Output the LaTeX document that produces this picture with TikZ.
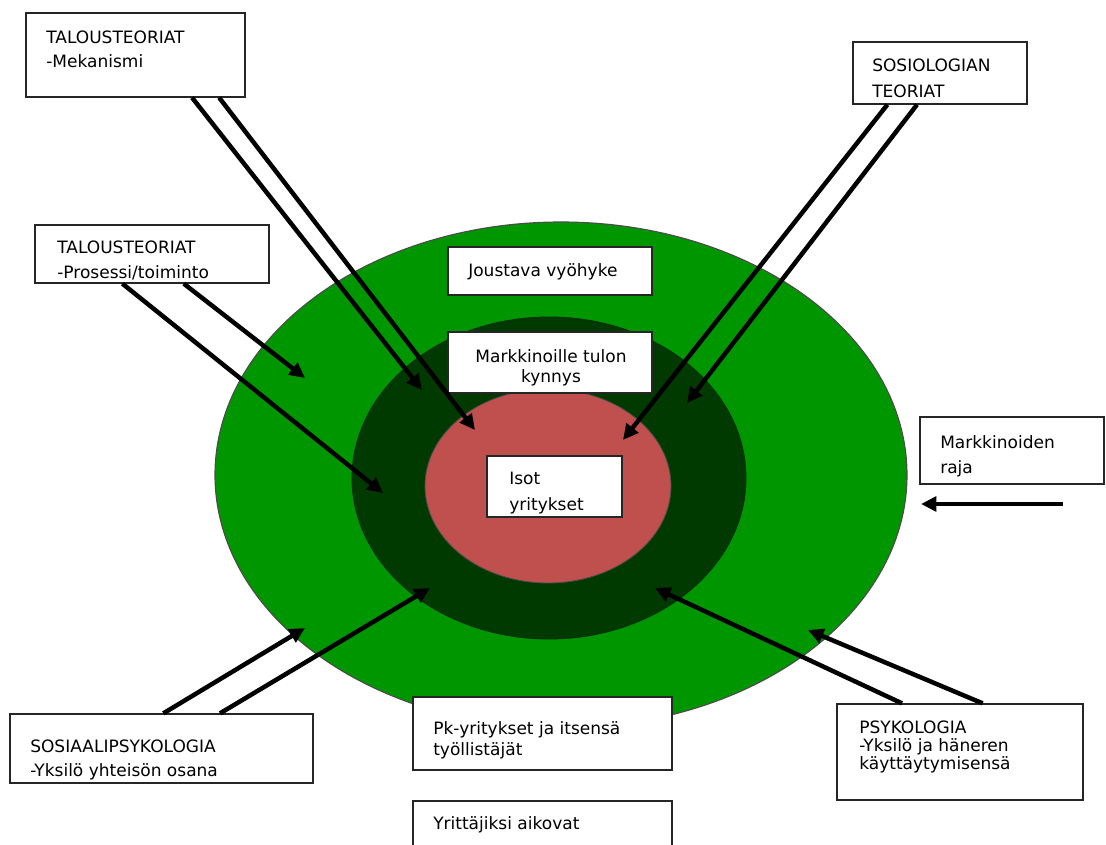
\documentclass[tikz,border=0pt]{standalone}
\usepackage{fontspec}
\setmainfont{DejaVu Sans}
\usetikzlibrary{arrows.meta,fit}
\definecolor{vyo}{RGB}{0,150,0}
\definecolor{kynnys}{RGB}{0,58,0}
\definecolor{isot}{RGB}{192,80,77}
\tikzset{
  laatikko/.style={draw=black!85, line width=0.9pt, fill=white, inner sep=0pt},
  teksti/.style={inner sep=0pt, anchor=north west, align=left, font=\fontsize{12.1}{#1}\selectfont},
  teksti/.default=17,
  nuoli/.style={line width=3.2pt, -{Triangle[length=11pt,width=10.5pt]}}
}

\begin{document}
\begin{tikzpicture}[x=0.025cm,y=-0.025cm]
	\clip (0,0) rectangle (1106,845);
	\fill[white] (0,0) rectangle (1106,845);

	% vyohykkeet
	\filldraw[fill=vyo, draw=black!70, line width=0.8pt] (561,475) ellipse [x radius=346, y radius=253];
	\filldraw[fill=kynnys, draw=kynnys!80!black, line width=0.6pt] (549,478) ellipse [x radius=197, y radius=161];
	\filldraw[fill=isot, draw=black!70, line width=0.6pt] (548,486) ellipse [x radius=123, y radius=97];

	% laatikot
	\node[laatikko, fit={(26,13) (245,97)}] (mek) {};
	\node[teksti] (mektxt) at (46,31) {TALOUSTEORIAT\\-Mekanismi};

	\node[laatikko, fit={(853,42) (1027,104)}] (sos) {};
	\node[teksti=18.5] (sostxt) at (872,59) {SOSIOLOGIAN\\TEORIAT};

	\node[laatikko, fit={(35,225) (269,283)}] (pro) {};
	\node[teksti=17.8] (protxt) at (57,241) {TALOUSTEORIAT\\-Prosessi/toiminto};

	\node[laatikko, fit={(448,247) (652,295)}] (jou) {};
	\node[teksti] (joutxt) at (468,263) {Joustava vyöhyke};

	\node[laatikko, fit={(448,332) (652,393)}] (kyn) {};
	\node[teksti=14.2, anchor=north, align=center] (kyntxt) at (551,349) {Markkinoille tulon\\kynnys};

	\node[laatikko, fit={(487,456) (622,517)}] (iso) {};
	\node[teksti=18.5] (isotxt) at (509,472) {Isot\\yritykset};

	\node[laatikko, fit={(920,417) (1104,484)}] (raj) {};
	\node[teksti=17.8] (rajtxt) at (940,435) {Markkinoiden\\raja};

	\node[laatikko, fit={(10,714) (313,783)}] (soc) {};
	\node[teksti] (soctxt) at (30,740) {SOSIAALIPSYKOLOGIA\\-Yksilö yhteisön osana};

	\node[laatikko, fit={(413,697) (672,770)}] (pk) {};
	\node[teksti=15] (pktxt) at (433,721) {Pk-yritykset ja itsensä\\työllistäjät};

	\node[laatikko, fit={(413,801) (672,870)}] (yri) {};
	\node[teksti] (yritxt) at (433,816) {Yrittäjiksi aikovat};

	\node[laatikko, fit={(837,704) (1083,800)}] (psy) {};
	\node[teksti=12.8] (psytxt) at (859,721) {PSYKOLOGIA\\-Yksilö ja häneren\\käyttäytymisensä};

	% nuolten karjet
	\coordinate (mekA) at (422,390);
	\coordinate (mekB) at (475,430);
	\coordinate (sosA) at (623,440);
	\coordinate (sosB) at (687,403);
	\coordinate (proA) at (383,493);
	\coordinate (proB) at (305,378);
	\coordinate (socA) at (305,628);
	\coordinate (socB) at (430,588);
	\coordinate (psyA) at (655,588);
	\coordinate (psyB) at (808,630);
	\coordinate (rajA) at (1063,504);
	\coordinate (rajB) at (921,504);

	\draw[nuoli] (mek.-37.6) -- (mekA);
	\draw[nuoli] (mek.-27.85) -- (mekB);
	\draw[nuoli] (sos.-149.2) -- (sosA);
	\draw[nuoli] (sos.-126.6) -- (sosB);
	\draw[nuoli] (pro.-135) -- (proA);
	\draw[nuoli] (pro.-43.1) -- (proB);
	\draw[nuoli] (soc.87.5) -- (socA);
	\draw[nuoli] (soc.31.9) -- (socB);
	\draw[nuoli] (psy.140.4) -- (psyA);
	\draw[nuoli] (psy.65.4) -- (psyB);
	\draw[nuoli] (rajA) -- (rajB);
\end{tikzpicture}
\end{document}
